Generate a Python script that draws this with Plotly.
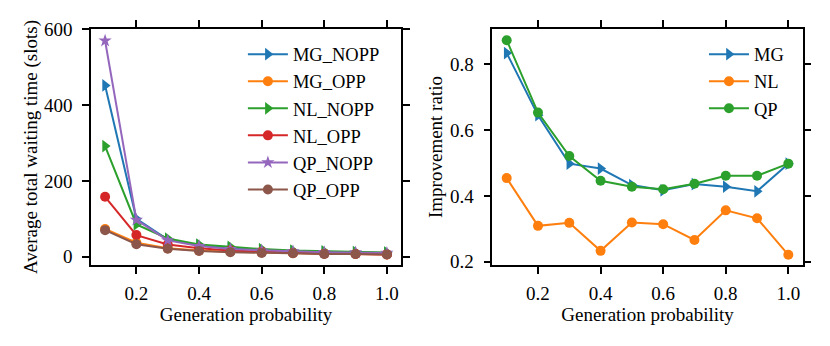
import plotly.graph_objects as go

# generation probability
p = [0.1, 0.2, 0.3, 0.4, 0.5, 0.6, 0.7, 0.8, 0.9, 1.0]

# average total waiting time (slots)
mg_nopp = [452, 100, 45, 30, 22, 17, 14, 12, 11, 10]
mg_opp = [73, 37, 22, 16, 13, 11, 9, 8, 7, 6]
nl_nopp = [292, 85, 48, 32, 26, 20, 16, 14, 12, 11]
nl_opp = [158, 57, 32, 22, 16, 13, 10, 8, 7, 6]
qp_nopp = [570, 97, 43, 28, 20, 16, 14, 12, 11, 10]
qp_opp = [70, 33, 21, 15, 12, 10, 9, 7, 7, 6]

# improvement ratio
mg_ratio = [0.834, 0.645, 0.498, 0.483, 0.433, 0.417, 0.436, 0.428, 0.414, 0.498]
nl_ratio = [0.454, 0.309, 0.318, 0.233, 0.319, 0.314, 0.266, 0.356, 0.332, 0.221]
qp_ratio = [0.873, 0.653, 0.521, 0.446, 0.428, 0.420, 0.437, 0.461, 0.461, 0.498]

FONT = "Liberation Serif"
TITLE_FS = 19
TICK_FS = 19
LEG_FS = 18.5

fig = go.Figure()

left = [
    ("MG_NOPP", mg_nopp, "#1f77b4", "triangle-right", 11),
    ("MG_OPP", mg_opp, "#ff7f0e", "circle", 10),
    ("NL_NOPP", nl_nopp, "#2ca02c", "triangle-right", 11),
    ("NL_OPP", nl_opp, "#d62728", "circle", 10),
    ("QP_NOPP", qp_nopp, "#9467bd", "star", 10),
    ("QP_OPP", qp_opp, "#8c564b", "circle", 10),
]
for name, ys, col, sym, sz in left:
    fig.add_trace(go.Scatter(
        x=p, y=ys, name=name, mode="lines+markers", legendgroup=name,
        line=dict(color=col, width=2),
        marker=dict(symbol=sym, size=sz, color=col),
        xaxis="x", yaxis="y", legend="legend",
    ))

right = [
    ("MG", mg_ratio, "#1f77b4", "triangle-right", 11),
    ("NL", nl_ratio, "#ff7f0e", "circle", 10),
    ("QP", qp_ratio, "#2ca02c", "circle", 10),
]
for name, ys, col, sym, sz in right:
    fig.add_trace(go.Scatter(
        x=p, y=ys, name=name, mode="lines+markers", legendgroup="r" + name,
        line=dict(color=col, width=2),
        marker=dict(symbol=sym, size=sz, color=col),
        xaxis="x2", yaxis="y2", legend="legend2",
    ))

axis_style = dict(
    showline=True, linecolor="#000000", linewidth=1.5, mirror="all",
    ticks="outside", ticklen=7, tickcolor="#000000", tickwidth=1.5,
    showgrid=False, zeroline=False, automargin=False,
    tickfont=dict(family=FONT, size=TICK_FS, color="black"),
    title_font=dict(family=FONT, size=TITLE_FS, color="black"),
)

xticks = [0.2, 0.4, 0.6, 0.8, 1.0]
xlabels = ["0.2", "0.4", "0.6", "0.8", "1.0"]

# the page puts the plot 8px in from the top left, so the domains are moved back by that much
fig.update_layout(
    width=830, height=346,
    margin=dict(l=0, r=0, t=0, b=0, autoexpand=False),
    paper_bgcolor="white", plot_bgcolor="white",
    font=dict(family=FONT, size=TICK_FS, color="black"),
    xaxis=dict(domain=[0.1, 0.4735], range=[0.055, 1.045],
               tickvals=xticks, ticktext=xlabels, ticklabelstandoff=3,
               title=dict(text="Generation probability", standoff=0), anchor="y", **axis_style),
    yaxis=dict(domain=[0.2572, 0.9393], range=[-22, 601],
               tickvals=[0, 200, 400, 600], ticklabelstandoff=6,
               title=dict(text="Average total waiting time (slots)", standoff=1), anchor="x", **axis_style),
    xaxis2=dict(domain=[0.5835, 0.9575], range=[0.054, 1.046],
                tickvals=xticks, ticktext=xlabels, ticklabelstandoff=3,
                title=dict(text="Generation probability", standoff=0), anchor="y2", **axis_style),
    yaxis2=dict(domain=[0.2572, 0.9393], range=[0.19, 0.907],
                tickvals=[0.2, 0.4, 0.6, 0.8], ticktext=["0.2", "0.4", "0.6", "0.8"], ticklabelstandoff=6,
                title=dict(text="Improvement ratio", standoff=2), anchor="x2", **axis_style),
    legend=dict(x=0.283, y=0.92, xanchor="left", yanchor="top",
                bgcolor="rgba(0,0,0,0)", font=dict(family=FONT, size=LEG_FS),
                itemwidth=40, tracegroupgap=0),
    legend2=dict(x=0.8385, y=0.92, xanchor="left", yanchor="top",
                 bgcolor="rgba(0,0,0,0)", font=dict(family=FONT, size=LEG_FS),
                 itemwidth=40, tracegroupgap=0),
    showlegend=True,
)

fig.write_html("out.html")
